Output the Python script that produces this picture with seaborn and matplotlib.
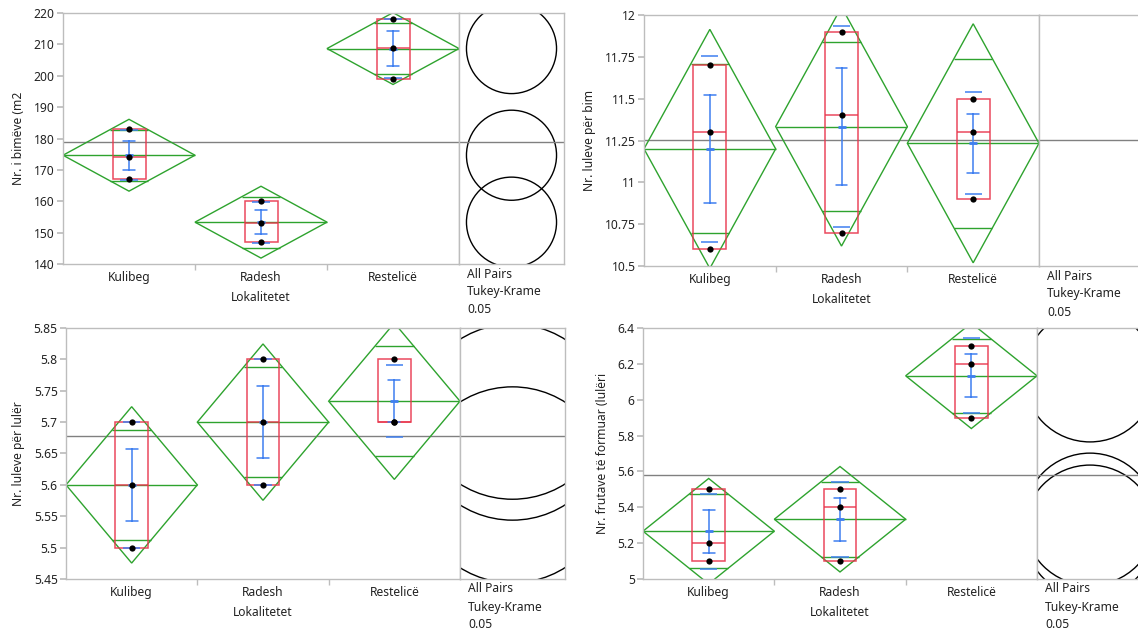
import numpy as np
import pandas as pd
import seaborn as sns
import matplotlib.pyplot as plt
from matplotlib.patches import Rectangle, Circle, Polygon
from matplotlib.ticker import FuncFormatter

# three plants per location, one list per measured variable
lokalitetet = ["Kulibeg", "Radesh", "Restelicë"]
grupi = np.repeat(lokalitetet, 3)

bimet = [167, 174, 183, 147, 153, 160, 199, 209, 218]
lule_bim = [10.6, 11.3, 11.7, 10.7, 11.4, 11.9, 10.9, 11.3, 11.5]
lule_luler = [5.5, 5.6, 5.7, 5.6, 5.7, 5.8, 5.7, 5.7, 5.8]
fruta = [5.1, 5.2, 5.5, 5.1, 5.4, 5.5, 5.9, 6.2, 6.3]

ylabels = ["Nr. i bimëve (m2", "Nr. luleve për bim",
           "Nr. luleve për lulër", "Nr. frutave të formuar (lulëri"]
ylims = [(140, 220), (10.5, 12), (5.45, 5.85), (5, 6.4)]
ysteps = [10, 0.25, 0.05, 0.2]

T_CRIT = 2.446912   # t(0.975, df=6)
Q_CRIT = 4.339      # studentized range q(0.95; 3, 6)

GREEN = "#2ea32e"
RED = "#e8364c"
BLUE = "#3f7ff0"
FRAME = "#bdbdbd"
TXT = "#222222"
FS = 8.7

W, H = 1138, 632
sns.set_theme(style="white")
plt.rcParams["font.family"] = ["Noto Sans", "DejaVu Sans"]
fig = plt.figure(figsize=(W / 100, H / 100), dpi=100)


def px(x0, y0, x1, y1):
    return [x0 / W, 1 - y1 / H, (x1 - x0) / W, (y1 - y0) / H]


# main frame (x0, y0, x1, y1) and right edge of the circles frame, in pixels
boxes = [(63, 13, 459, 264, 564), (644, 15, 1039, 266, 1144),
         (66, 328, 460, 579, 565), (643, 328, 1037, 579, 1143)]

for vals, ylab, ylim, step, (x0, y0, x1, y1, x2) in zip(
        [bimet, lule_bim, lule_luler, fruta], ylabels, ylims, ysteps, boxes):
    df = pd.DataFrame({"Lokalitetet": grupi, "v": vals})
    ax = fig.add_axes(px(x0, y0, x1, y1))
    cax = fig.add_axes(px(x1, y0, x2, y1))

    g = df.groupby("Lokalitetet", sort=False)["v"]
    means = g.mean().values
    sds = g.std().values
    n = g.size().values
    ss = g.apply(lambda s: ((s - s.mean()) ** 2).sum()).sum()
    mse = ss / (len(df) - len(lokalitetet))
    se_pool = np.sqrt(mse / n)
    grand = df["v"].mean()

    for i, loc in enumerate(lokalitetet):
        v = df.loc[df["Lokalitetet"] == loc, "v"].values
        m, d = means[i], T_CRIT * se_pool[i]
        # means diamond + overlap marks
        ax.add_patch(Polygon([(i - 0.5, m), (i, m + d), (i + 0.5, m), (i, m - d)],
                             closed=True, fill=False, ec=GREEN, lw=1.0, zorder=2))
        ax.hlines(m, i - 0.5, i + 0.5, color=GREEN, lw=1.0, zorder=2)
        hw = 0.5 * (1 - 1 / np.sqrt(2))
        ax.hlines([m + d / np.sqrt(2), m - d / np.sqrt(2)], i - hw, i + hw,
                  color=GREEN, lw=1.0, zorder=2)
        # quantile box
        q1, med, q3 = np.percentile(v, [25, 50, 75], method="weibull")
        ax.add_patch(Rectangle((i - 0.125, q1), 0.25, q3 - q1, fill=False,
                               ec=RED, lw=1.1, alpha=0.9, zorder=3))
        ax.hlines(med, i - 0.125, i + 0.125, color=RED, lw=1.1, alpha=0.9, zorder=3)
        # std dev lines
        ax.hlines([m + sds[i], m - sds[i]], i - 0.065, i + 0.065,
                  color=BLUE, lw=1.1, zorder=4)
        # comparison circle
        cax.add_patch(Circle((0, m), Q_CRIT / np.sqrt(2) * se_pool[i],
                             fill=False, ec="black", lw=1.0))

    sns.pointplot(data=df, x="Lokalitetet", y="v", order=lokalitetet, errorbar="se",
                  linestyle="none", marker="_", markersize=6, capsize=0.09,
                  color=BLUE, err_kws={"linewidth": 1.1}, ax=ax, zorder=4)
    sns.stripplot(data=df, x="Lokalitetet", y="v", order=lokalitetet, jitter=False,
                  color="black", size=4.5, ax=ax, zorder=5)

    for a in (ax, cax):
        a.axhline(grand, color="#808080", lw=1.0, zorder=1)
        a.set_ylim(*ylim)
        for s in a.spines.values():
            s.set_color(FRAME)
            s.set_linewidth(1.0)

    ax.set_xlim(-0.5, 2.5)
    ax.set_xticks(range(3), lokalitetet)
    ax.set_xticks([0.5, 1.5], minor=True)
    ax.tick_params(axis="x", which="major", length=0, pad=5, labelsize=FS,
                   labelcolor=TXT)
    ax.tick_params(axis="x", which="minor", length=4, color=FRAME, bottom=True)
    ticks = np.round(np.arange(ylim[0], ylim[1] + step / 2, step), 3)
    ax.set_yticks(ticks)
    ax.yaxis.set_major_formatter(FuncFormatter(lambda v, p: f"{v:g}"))
    ax.tick_params(axis="y", length=4, color=FRAME, left=True, labelsize=FS,
                   labelcolor=TXT, pad=2)
    ax.set_xlabel("Lokalitetet", fontsize=FS, color=TXT, labelpad=5)
    ax.set_ylabel(ylab, fontsize=FS, color=TXT, labelpad=6)

    yr = ylim[1] - ylim[0]
    xr = yr * (x2 - x1) / (y1 - y0)
    cax.set_xlim(-xr / 2, xr / 2)
    cax.set_xticks([])
    cax.set_yticks([])

    for k, txt in enumerate(["All Pairs", "Tukey-Krame", "0.05"]):
        fig.text((x1 + 8) / W, 1 - (y1 + 10 + 18 * k) / H, txt, fontsize=FS,
                 color=TXT, va="center", ha="left")

fig.savefig("out.png", dpi=100)
